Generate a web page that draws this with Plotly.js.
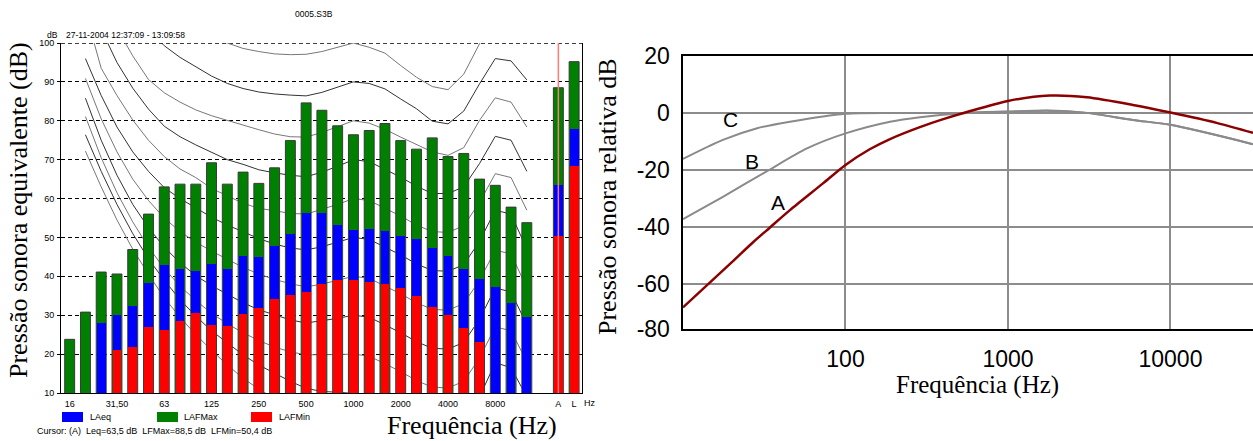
<!DOCTYPE html>
<html><head><meta charset="utf-8">
<script src="https://cdn.plot.ly/plotly-3.0.1.min.js"></script>
<style>html,body{margin:0;padding:0;background:#fff;}#chart{width:1253px;height:441px;}</style>
</head><body><div id="chart"></div>
<script>
// ---------- left chart data (1/3 octave bands) ----------
const bandLabels = ['16','20','25','31,5','40','50','63','80','100','125','160','200','250','315','400','500','630','800','1000','1250','1600','2000','2500','3150','4000','5000','6300','8000','10000','12500'];
const lafMax = [23.8,30.8,41.1,40.6,46.9,56.0,63.0,63.7,63.7,69.2,63.7,66.8,63.9,67.9,74.9,84.6,82.7,78.7,76.4,77.5,79.3,74.9,72.7,75.6,70.8,71.6,65.0,63.4,57.8,53.8];
const laEq   = [null,null,28.0,30.0,32.5,38.3,42.8,41.9,41.4,43.2,41.9,45.3,44.9,47.8,50.8,56.3,56.3,53.2,51.9,52.1,51.6,50.3,49.7,47.3,45.3,41.8,39.3,37.3,33.2,29.6];
const lafMin = [null,null,null,21.1,21.9,26.9,26.2,28.5,30.6,27.5,27.3,30.4,31.9,34.1,35.1,36.0,38.1,39.1,39.1,38.6,38.1,37.1,34.9,32.2,30.1,26.7,23.2,null,null,null];
const totalLabels = ['A','L'];
const totalMax = [88.5,95.2];
const totalEq  = [63.5,77.8];
const totalMin = [50.4,68.4];
const cursorBand = 'A';
const xTickBands = ['16','31,5','63','125','250','500','1000','2000','4000','8000'];
const xTickText  = ['16','31,50','63','125','250','500','1000','2000','4000','8000'];
const yTicks = [10,20,30,40,50,60,70,80,90,100];

// equal loudness contours, bands 20 Hz .. 12500 Hz
const contourBands = bandLabels.slice(1);
const phon100 = [130,125,120,115,111,107,104,102.5,101.2,100,98.6,97.8,97.2,97.0,97.1,97.8,98.9,100,98.9,97.4,94.2,91.2,88.8,88.0,92.0,99.8,106,105,100.5];
const phon90  = [125,118,112,107.5,103.5,99.3,96.3,93.8,91.5,89.6,88.3,87.4,86.9,86.6,86.4,87.3,88.6,90,89.6,88.2,85.6,83.1,79.9,79.2,82.5,89.5,96.0,95.4,90.5];
const phon80  = [118,111,104,96.7,90.6,87.2,84.8,82.8,81.3,80.1,78.8,77.7,76.6,75.9,75.8,77.0,78.5,80,79.4,77.8,75.8,73.8,72.0,71.1,73.1,80.1,85.9,84.8,78.4];
const phon70  = [112,103.5,95,88.4,83,78.6,75.9,73.8,71.8,70.0,68.8,67.4,66.6,66.0,65.6,66.8,68.3,70,69.5,67.5,65.5,63.2,61.3,61.3,63.0,69.0,76.0,75.0,67.0];
const phon60  = [108,93.5,86.5,80.2,75,70.8,67.6,65.4,62.6,60.6,58.8,57.5,56.8,56.2,56.0,57.2,58.5,60,59.5,57.5,55.5,53.2,51.5,51.3,53,59,66.4,65.4,57];
const phon50  = [96,86.5,78.4,72,67,62.8,60,57.5,55.2,53.2,51.4,49.7,48.3,47.3,46.8,47.6,48.8,50,49.5,47.5,45.5,43.2,41.5,41.3,43,49,57,56,47];
const phon40  = [90.9,80.5,72,65,59.5,55,51.5,48.8,46.5,44.3,42.3,40.6,39.2,38.1,37.3,38,39,40,39.5,37.5,35.5,33.2,31.5,31.3,33,39,46.7,45.8,37];
const phon30  = [85.8,75,66,58.5,52.5,47.5,43.5,40.2,37.6,35.3,33.2,31.4,30,28.8,28,28.6,29.2,30,29.5,27.5,25.5,23.2,21.5,21.3,23,29,37,36,27.5];
const phon20  = [81.1,70.5,61.5,54,47.5,42,37.5,33.8,30.5,27.8,25.5,23.5,21.8,20.6,19.8,19.8,19.9,20,19.5,17.5,15.5,13.2,11.5,11.3,13,19,27,26,18];
const phon10  = [76.4,67,58.5,51,44.5,39,34,29.8,26,22.8,19.8,17.2,15,13,11.2,10.4,10.2,10,9.6,7.5,5.5,3.2,1.5,1.3,3,9,17.8,16.5,9];
const phon0   = [72.2,63,54.5,47,40.5,34.5,29.5,25,21,17.2,13.8,11.0,8.5,6.5,5,4,3,2.5,2.5,1.5,-1,-3.5,-5.5,-5,-1.5,4,8,8.5,7];
const contours = [phon100,phon90,phon80,phon70,phon60,phon50,phon40,phon30,phon20,phon10,phon0];

// ---------- right chart data (weighting curves) ----------
const aFreq = [10,20,27,34.3,45.5,72.7,100,141,188,287,400,559,1000,1810,3060,5870,10000,19450,32200];
const weightA = [-68.4,-52.5,-45.5,-40.3,-34.2,-24.8,-18.3,-12.8,-9.2,-5.0,-2.2,0.3,4.2,6.1,5.5,2.8,0.1,-3.6,-7.0];
const bFreq = [10,17.6,32.9,57.9,100,188,287,559,1000,1810,3060,5870,10000,32200];
const weightB = [-37.4,-29.5,-20.5,-12.5,-7.2,-3.1,-1.5,0,0.5,0.8,0,-2.5,-4.2,-11.0];
const cFreq = [10,17.6,28.6,45.5,100,200,500,1000,1810,3060,5870,10000,32200];
const weightC = [-16.2,-9.5,-5.4,-3.1,-0.3,0,0,0.4,0.7,0,-2.5,-4.2,-11.0];
const rTickVals = [20,0,-20,-40,-60,-76];
const rTickText = ['20','0','-20','-40','-60','-80'];

// ---------- build ----------
const W = 1253, H = 441;
const fx = p => p / W, fy = p => 1 - p / H;
const bandX = bandLabels.map((_, i) => i);
const totalX = totalLabels.map((_, j) => bandLabels.length + 1 + j);
const allX = bandX.concat(totalX);
const SANS = 'Liberation Sans, Arial, sans-serif';
const SERIF = 'Liberation Serif, Times New Roman, serif';

const traces = [];
contours.forEach((c, k) => {
  traces.push({type:'scatter', mode:'lines', xaxis:'x', yaxis:'y',
    x: contourBands.map(b => bandLabels.indexOf(b)), y: c,
    line:{color: k % 2 ? '#333' : '#777', width:1}, hoverinfo:'skip'});
});
traces.push({type:'bar', xaxis:'x2', yaxis:'y2', x: allX, y: lafMax.concat(totalMax), width:0.63,
  marker:{color:'#008000', line:{color:'#3a3a3a', width:1}}, name:'LAFMax'});
traces.push({type:'bar', xaxis:'x2', yaxis:'y2', x: allX, y: laEq.concat(totalEq), width:0.56,
  marker:{color:'#0000ff', line:{width:0}}, name:'LAeq'});
traces.push({type:'bar', xaxis:'x2', yaxis:'y2', x: allX, y: lafMin.concat(totalMin), width:0.56,
  marker:{color:'#ff0000', line:{width:0}}, name:'LAFMin'});
const cx = totalX[totalLabels.indexOf(cursorBand)];
traces.push({type:'scatter', mode:'lines', xaxis:'x2', yaxis:'y2', x:[cx,cx], y:[yTicks[0], yTicks[yTicks.length-1]],
  line:{color:'#ff7b7b', width:1.5}, hoverinfo:'skip'});

traces.push({type:'scatter', mode:'lines', xaxis:'x3', yaxis:'y3', x:bFreq, y:weightB, line:{color:'#8a8a8a', width:2, shape:'spline', smoothing:0.8}});
traces.push({type:'scatter', mode:'lines', xaxis:'x3', yaxis:'y3', x:cFreq, y:weightC, line:{color:'#8a8a8a', width:2, shape:'spline', smoothing:0.8}});
traces.push({type:'scatter', mode:'lines', xaxis:'x3', yaxis:'y3', x:aFreq, y:weightA, line:{color:'#8b0000', width:2.5, shape:'spline', smoothing:0.8}});

const xr = [-0.55, 32.5];
const leftDomX = [fx(61), fx(582)], leftDomY = [fy(393), fy(43)];
const layout = {
  width: W, height: H, margin:{l:0,r:0,t:0,b:0}, paper_bgcolor:'#fff', plot_bgcolor:'rgba(0,0,0,0)',
  showlegend:false, barmode:'overlay', bargap:0,
  font:{family:SANS, color:'#000'},
  xaxis:{domain:leftDomX, range:xr, anchor:'y', fixedrange:true,
    tickvals: xTickBands.map(b => bandLabels.indexOf(b)).concat(totalX), ticktext: xTickText.concat(totalLabels),
    showline:true, linecolor:'#000', linewidth:1, ticks:'', showgrid:false, zeroline:false,
    tickfont:{family:SANS, size:9, color:'#000'}, ticklabelstandoff:2},
  yaxis:{domain:leftDomY, range:[10,100], anchor:'x', fixedrange:true, tickvals:yTicks,
    showline:true, mirror:true, linecolor:'#000', linewidth:1, ticks:'outside', ticklen:3, tickcolor:'#000',
    showgrid:true, gridcolor:'#000', gridwidth:1, griddash:'4px,3px', zeroline:false,
    tickfont:{family:SANS, size:9, color:'#000'}, ticklabelstandoff:1},
  xaxis2:{overlaying:'x', domain:leftDomX, range:xr, anchor:'y2', showticklabels:false, showgrid:false, showline:false, zeroline:false, ticks:'', fixedrange:true},
  yaxis2:{overlaying:'y', domain:leftDomY, range:[10,100], anchor:'x2', showticklabels:false, showgrid:false, showline:false, zeroline:false, ticks:'', fixedrange:true},
  xaxis3:{domain:[fx(683),1], type:'log', range:[1,4.508], anchor:'y3', fixedrange:true,
    tickvals:[100,1000,10000], ticktext:['100','1000','10000'], ticks:'',
    showgrid:true, gridcolor:'#8c8c8c', gridwidth:2, showline:true, mirror:true, linecolor:'#000', linewidth:2, zeroline:false,
    tickfont:{family:SANS, size:23, color:'#000'}, ticklabelstandoff:8},
  yaxis3:{domain:[fy(329), fy(56)], range:[-76,20], anchor:'x3', fixedrange:true,
    tickvals:rTickVals, ticktext:rTickText, ticks:'',
    showgrid:true, gridcolor:'#8c8c8c', gridwidth:2, showline:true, linecolor:'#000', linewidth:2.5, zeroline:false,
    tickfont:{family:SANS, size:23, color:'#000'}, ticklabelstandoff:6},
  shapes:[
    {type:'line', xref:'x domain', yref:'y', x0:0, x1:1, y0:yTicks[yTicks.length-1], y1:yTicks[yTicks.length-1], layer:'below', line:{color:'#000', width:1.6, dash:'4px,3px'}},
    {type:'rect', xref:'paper', yref:'paper', x0:fx(62), x1:fx(83), y0:fy(422), y1:fy(412), fillcolor:'#0000ff', line:{width:0}},
    {type:'rect', xref:'paper', yref:'paper', x0:fx(157), x1:fx(178), y0:fy(422), y1:fy(412), fillcolor:'#008000', line:{width:0}},
    {type:'rect', xref:'paper', yref:'paper', x0:fx(251), x1:fx(272), y0:fy(422), y1:fy(412), fillcolor:'#ff0000', line:{width:0}}
  ],
  annotations:[
    {text:'0005.S3B', xref:'paper', yref:'paper', x:fx(314), y:fy(14), xanchor:'center', yanchor:'middle', showarrow:false, font:{family:SANS, size:8.5}},
    {text:'dB', xref:'paper', yref:'paper', x:fx(45), y:fy(35), xanchor:'left', yanchor:'middle', showarrow:false, font:{family:SANS, size:8.5}},
    {text:'27-11-2004 12:37:09 - 13:09:58', xref:'paper', yref:'paper', x:fx(64), y:fy(35), xanchor:'left', yanchor:'middle', showarrow:false, font:{family:SANS, size:8.5}},
    {text:'Hz', xref:'paper', yref:'paper', x:fx(590), y:fy(403), xanchor:'center', yanchor:'middle', showarrow:false, font:{family:SANS, size:9}},
    {text:'LAeq', xref:'paper', yref:'paper', x:fx(88), y:fy(417), xanchor:'left', yanchor:'middle', showarrow:false, font:{family:SANS, size:9}},
    {text:'LAFMax', xref:'paper', yref:'paper', x:fx(182), y:fy(417), xanchor:'left', yanchor:'middle', showarrow:false, font:{family:SANS, size:9}},
    {text:'LAFMin', xref:'paper', yref:'paper', x:fx(277), y:fy(417), xanchor:'left', yanchor:'middle', showarrow:false, font:{family:SANS, size:9}},
    {text:'Cursor: (A)  Leq=63,5 dB  LFMax=88,5 dB  LFMin=50,4 dB', xref:'paper', yref:'paper', x:fx(35), y:fy(431), xanchor:'left', yanchor:'middle', showarrow:false, font:{family:SANS, size:9}},
    {text:'Pressão sonora equivalente (dB)', xref:'paper', yref:'paper', x:fx(18), y:fy(210), xanchor:'center', yanchor:'middle', textangle:-90, showarrow:false, font:{family:SERIF, size:26}},
    {text:'Frequência (Hz)', xref:'paper', yref:'paper', x:fx(472), y:fy(425), xanchor:'center', yanchor:'middle', showarrow:false, font:{family:SERIF, size:26}},
    {text:'Pressão sonora relativa dB', xref:'paper', yref:'paper', x:fx(607), y:fy(197), xanchor:'center', yanchor:'middle', textangle:-90, showarrow:false, font:{family:SERIF, size:26}},
    {text:'Frequência (Hz)', xref:'paper', yref:'paper', x:fx(977), y:fy(385), xanchor:'center', yanchor:'middle', showarrow:false, font:{family:SERIF, size:25}},
    {text:'C', xref:'x3', yref:'y3', x:Math.log10(19.5), y:-2.5, xanchor:'center', yanchor:'middle', showarrow:false, font:{family:SANS, size:21}},
    {text:'B', xref:'x3', yref:'y3', x:Math.log10(26.6), y:-17, xanchor:'center', yanchor:'middle', showarrow:false, font:{family:SANS, size:21}},
    {text:'A', xref:'x3', yref:'y3', x:Math.log10(38.4), y:-31.4, xanchor:'center', yanchor:'middle', showarrow:false, font:{family:SANS, size:21}}
  ]
};
Plotly.newPlot('chart', traces, layout, {staticPlot:true, displayModeBar:false});
</script></body></html>
